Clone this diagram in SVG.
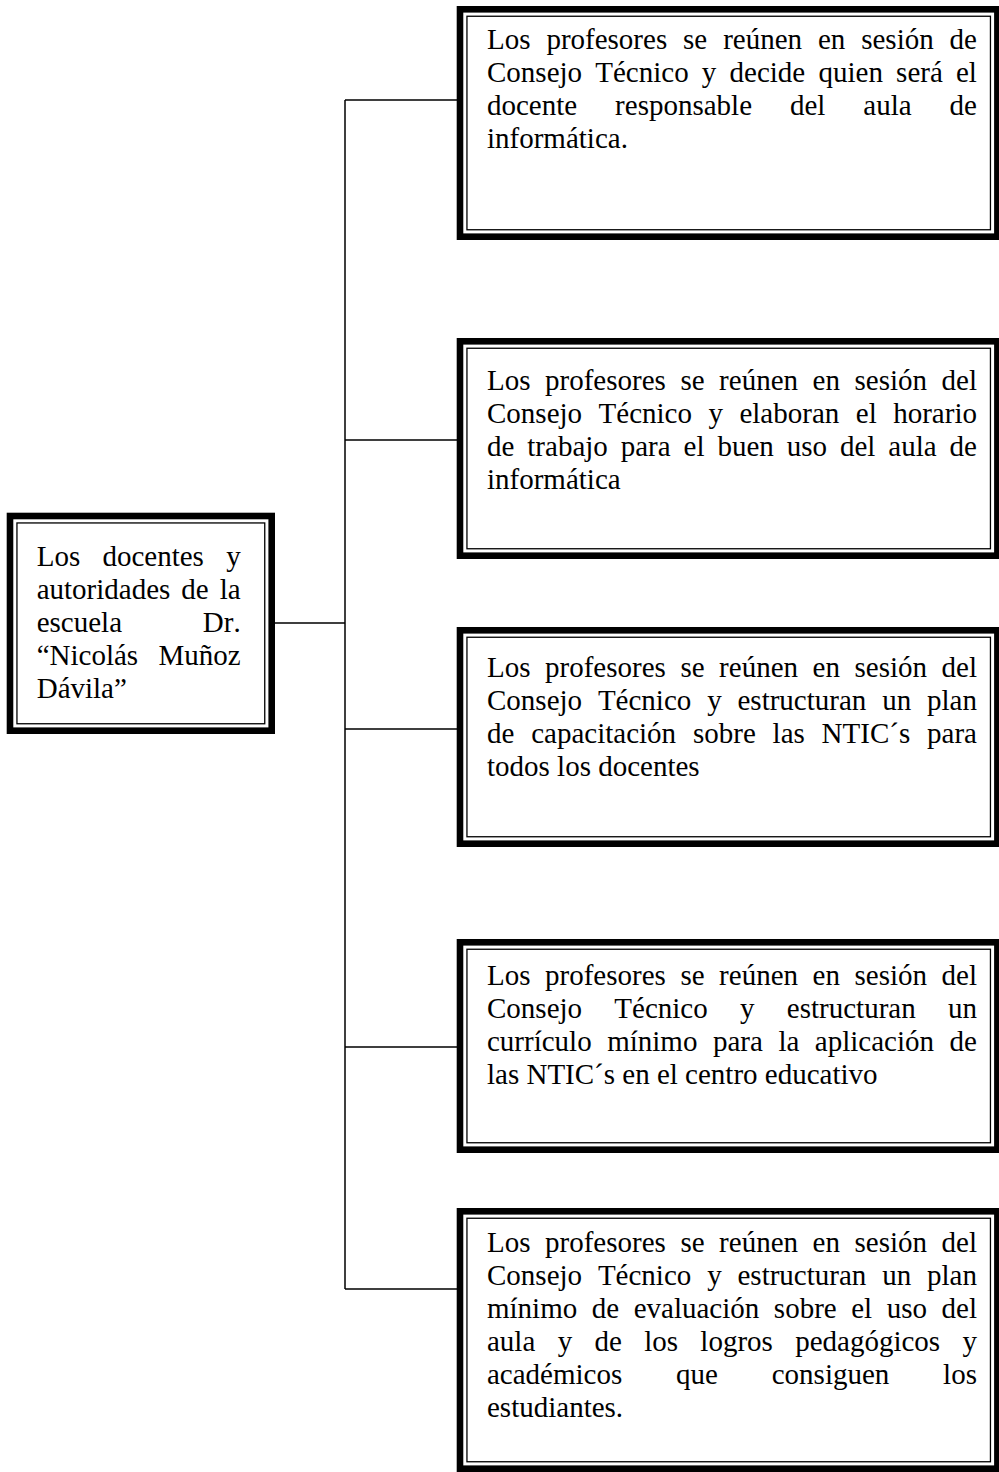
<svg xmlns="http://www.w3.org/2000/svg" width="999" height="1472" viewBox="0 0 999 1472">
<style>
.outer{fill:#fff;stroke:#000;stroke-width:6.6}
.inner{fill:none;stroke:#000;stroke-width:1.3}
.t{font-family:"Liberation Serif","Times New Roman",serif;font-size:29px;fill:#000;font-kerning:none}
.c{stroke:#000;stroke-width:1.5;fill:none}
</style>
<rect width="999" height="1472" fill="#fff"/>
<g id="connectors">
<path class="c" d="M345,100 V1289 M345,100 H457 M345,440 H457 M345,729 H457 M345,1047 H457 M345,1289 H457 M275,623 H345"/>
</g>
<g id="node-root">
<rect class="outer" x="10" y="516" width="261.7" height="214.7"/>
<rect class="inner" x="16.95" y="522.95" width="247.8" height="200.8"/>
<text class="t" x="36.7" y="566" word-spacing="15.01">Los docentes y</text>
<text class="t" x="36.7" y="599" word-spacing="3.75">autoridades de la</text>
<text class="t" x="36.7" y="632" word-spacing="73.56">escuela Dr.</text>
<text class="t" x="36.7" y="665" word-spacing="13.12">“Nicolás Muñoz</text>
<text class="t" x="36.7" y="698">Dávila”</text>
</g>
<g id="node-1">
<rect class="outer" x="460" y="9.3" width="537.4" height="227.4"/>
<rect class="inner" x="466.95" y="16.25" width="523.5" height="213.5"/>
<text class="t" x="487" y="49" word-spacing="8.65">Los profesores se reúnen en sesión de</text>
<text class="t" x="487" y="82" word-spacing="5.96">Consejo Técnico y decide quien será el</text>
<text class="t" x="487" y="115" word-spacing="30.69">docente responsable del aula de</text>
<text class="t" x="487" y="148">informática.</text>
</g>
<g id="node-2">
<rect class="outer" x="460" y="341.3" width="537.4" height="214.4"/>
<rect class="inner" x="466.95" y="348.25" width="523.5" height="200.5"/>
<text class="t" x="487" y="390" word-spacing="7.31">Los profesores se reúnen en sesión del</text>
<text class="t" x="487" y="423" word-spacing="9.25">Consejo Técnico y elaboran el horario</text>
<text class="t" x="487" y="456" word-spacing="5.68">de trabajo para el buen uso del aula de</text>
<text class="t" x="487" y="489">informática</text>
</g>
<g id="node-3">
<rect class="outer" x="460" y="630.3" width="537.4" height="213.4"/>
<rect class="inner" x="466.95" y="637.25" width="523.5" height="199.5"/>
<text class="t" x="487" y="677" word-spacing="7.31">Los profesores se reúnen en sesión del</text>
<text class="t" x="487" y="710" word-spacing="8.60">Consejo Técnico y estructuran un plan</text>
<text class="t" x="487" y="743" word-spacing="9.58">de capacitación sobre las NTIC´s para</text>
<text class="t" x="487" y="776">todos los docentes</text>
</g>
<g id="node-4">
<rect class="outer" x="460" y="942.3" width="537.4" height="207.4"/>
<rect class="inner" x="466.95" y="949.25" width="523.5" height="193.5"/>
<text class="t" x="487" y="985" word-spacing="7.31">Los profesores se reúnen en sesión del</text>
<text class="t" x="487" y="1018" word-spacing="25.05">Consejo Técnico y estructuran un</text>
<text class="t" x="487" y="1051" word-spacing="8.28">currículo mínimo para la aplicación de</text>
<text class="t" x="487" y="1084">las NTIC´s en el centro educativo</text>
</g>
<g id="node-5">
<rect class="outer" x="460" y="1211.3" width="537.4" height="257.4"/>
<rect class="inner" x="466.95" y="1218.25" width="523.5" height="243.5"/>
<text class="t" x="487" y="1252" word-spacing="7.31">Los profesores se reúnen en sesión del</text>
<text class="t" x="487" y="1285" word-spacing="8.60">Consejo Técnico y estructuran un plan</text>
<text class="t" x="487" y="1318" word-spacing="7.30">mínimo de evaluación sobre el uso del</text>
<text class="t" x="487" y="1351" word-spacing="15.08">aula y de los logros pedagógicos y</text>
<text class="t" x="487" y="1384" word-spacing="46.55">académicos que consiguen los</text>
<text class="t" x="487" y="1417">estudiantes.</text>
</g>
</svg>
